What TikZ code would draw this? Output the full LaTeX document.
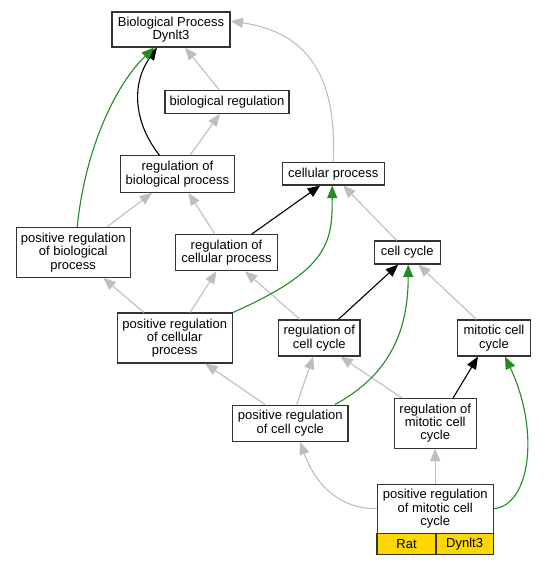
\documentclass[tikz,border=0pt]{standalone}
\usepackage{fontspec}
\setmainfont{Liberation Sans}
\usetikzlibrary{arrows.meta}

\definecolor{edgegray}{HTML}{BEBEBE}
\definecolor{posgreen}{HTML}{228B22}
\definecolor{annotgold}{HTML}{FFD700}

\tikzset{
  term/.style={draw=black!80, line width=1.1pt, fill=white, align=center, inner sep=0pt, font=\fontsize{13}{13.3}\selectfont},
  isa/.style={draw=edgegray, line width=1.1pt, -{Triangle[length=12.5pt,width=10pt]}},
  reg/.style={draw=black, line width=1.1pt, -{Triangle[length=12.5pt,width=10pt]}},
  posreg/.style={draw=posgreen, line width=1.1pt, -{Triangle[length=12.5pt,width=10pt]}},
}

\begin{document}
\begin{tikzpicture}[x=1pt,y=1pt,yscale=-1,xscale=1]
\useasboundingbox (0,0) rectangle (545,565);


%Top term
\node[term, minimum width=118pt, minimum height=35pt] (bp) at (171,29.5) {Biological Process\\Dynlt3};

%Level 1
\node[term, minimum width=124pt, minimum height=23pt] (br) at (227,101.7) {biological regulation};

%Level 2
\node[term, minimum width=114.7pt, minimum height=36.6pt] (rbp) at (177.4,174) {regulation of\\biological process};
\node[term, minimum width=101.7pt, minimum height=22.3pt] (cp) at (333.2,173.8) {cellular process};

%Level 3
\node[term, minimum width=114.3pt, minimum height=49.6pt] (prbp) at (73.2,252.5) {positive regulation\\of biological\\process};
\node[term, minimum width=101.6pt, minimum height=36pt] (rcp) at (226.5,252.7) {regulation of\\cellular process};
\node[term, minimum width=65.7pt, minimum height=23pt] (cc) at (407.2,252.5) {cell cycle};

%Level 4
\node[term, minimum width=115.3pt, minimum height=50pt] (prcp) at (174.7,338) {positive regulation\\of cellular\\process};
\node[term, minimum width=81.3pt, minimum height=36pt] (rcc) at (319.3,338) {regulation of\\cell cycle};
\node[term, minimum width=73.4pt, minimum height=36pt] (mcc) at (494,338) {mitotic cell\\cycle};

%Level 5
\node[term, minimum width=115.3pt, minimum height=36.3pt] (prcc) at (290.3,423.2) {positive regulation\\of cell cycle};
\node[term, minimum width=81.7pt, minimum height=49.7pt] (rmcc) at (435.2,423.2) {regulation of\\mitotic cell\\cycle};

%Annotated term
\node[term, minimum width=116.3pt, minimum height=49.3pt] (prmcc) at (435.2,508.7) {positive regulation\\of mitotic cell\\cycle};
\node[term, fill=annotgold, minimum width=59pt, minimum height=21.4pt] (rat) at (406.5,544) {Rat};
\node[term, fill=annotgold, minimum width=57.3pt, minimum height=21.4pt] (gene) at (464.65,544) {Dynlt3};


%is_a
\draw[isa] ([xshift=-8pt]br.north) -- ([xshift=14pt]bp.south);
\draw[isa] ([xshift=12.6pt]rbp.north) -- ([xshift=-7pt]br.south);
\draw[isa] (cp.north) .. controls +(3.8,-82.7) and +(80,12) .. ([yshift=-8.5pt]bp.east);
\draw[isa] ([xshift=33.5pt]prbp.north) -- ([xshift=-25.4pt]rbp.south);
\draw[isa] ([xshift=-11.5pt]rcp.north) -- ([xshift=11pt]rbp.south);
\draw[isa] ([xshift=-10.5pt]cc.north) -- ([xshift=10pt]cp.south);
\draw[isa] ([xshift=-30.7pt]prcp.north) -- ([xshift=30pt]prbp.south);
\draw[isa] ([xshift=15.3pt]prcp.north) -- ([xshift=-10pt]rcp.south);
\draw[isa] ([xshift=-19.3pt]rcc.north) -- ([xshift=18.5pt]rcp.south);
\draw[isa] ([xshift=-17.5pt]mcc.north) -- ([xshift=11pt]cc.south);
\draw[isa] ([xshift=-25.3pt]prcc.north) -- ([xshift=30.5pt]prcp.south);
\draw[isa] ([xshift=6.4pt]prcc.north) -- ([xshift=-6pt]rcc.south);
\draw[isa] ([xshift=-33.5pt]rmcc.north) -- ([xshift=21pt]rcc.south);
\draw[isa] (prmcc.north) -- (rmcc.south);
\draw[isa] (prmcc.west) .. controls +(-47,0) and +(10,29) .. ([xshift=10pt]prcc.south);


%regulates
\draw[reg] ([xshift=-18pt]rbp.north) .. controls +(-24.4,-30.7) and +(-27,38) .. ([xshift=-14pt]bp.south);
\draw[reg] ([xshift=25.2pt]rcp.north) -- ([xshift=-13pt]cp.south);
\draw[reg] ([xshift=19pt]rcc.north) -- ([xshift=-9pt]cc.south);
\draw[reg] ([xshift=18pt]rmcc.north) -- ([xshift=-16pt]mcc.south);


%positively regulates
\draw[posreg] ([xshift=4pt]prbp.north) .. controls +(7.8,-77.7) and +(-39,38) .. ([xshift=-17pt]bp.south);
\draw[posreg] (prcp.north east) .. controls +(97.7,-43) and +(0,55) .. ([xshift=-1pt]cp.south);
\draw[posreg] ([xshift=44.7pt]prcc.north) .. controls +(55,-30) and +(0,66) .. ([xshift=1pt]cc.south);
\draw[posreg] (prmcc.east) .. controls +(36.6,-3.7) and +(35,74) .. ([xshift=11pt]mcc.south);

\end{tikzpicture}
\end{document}
